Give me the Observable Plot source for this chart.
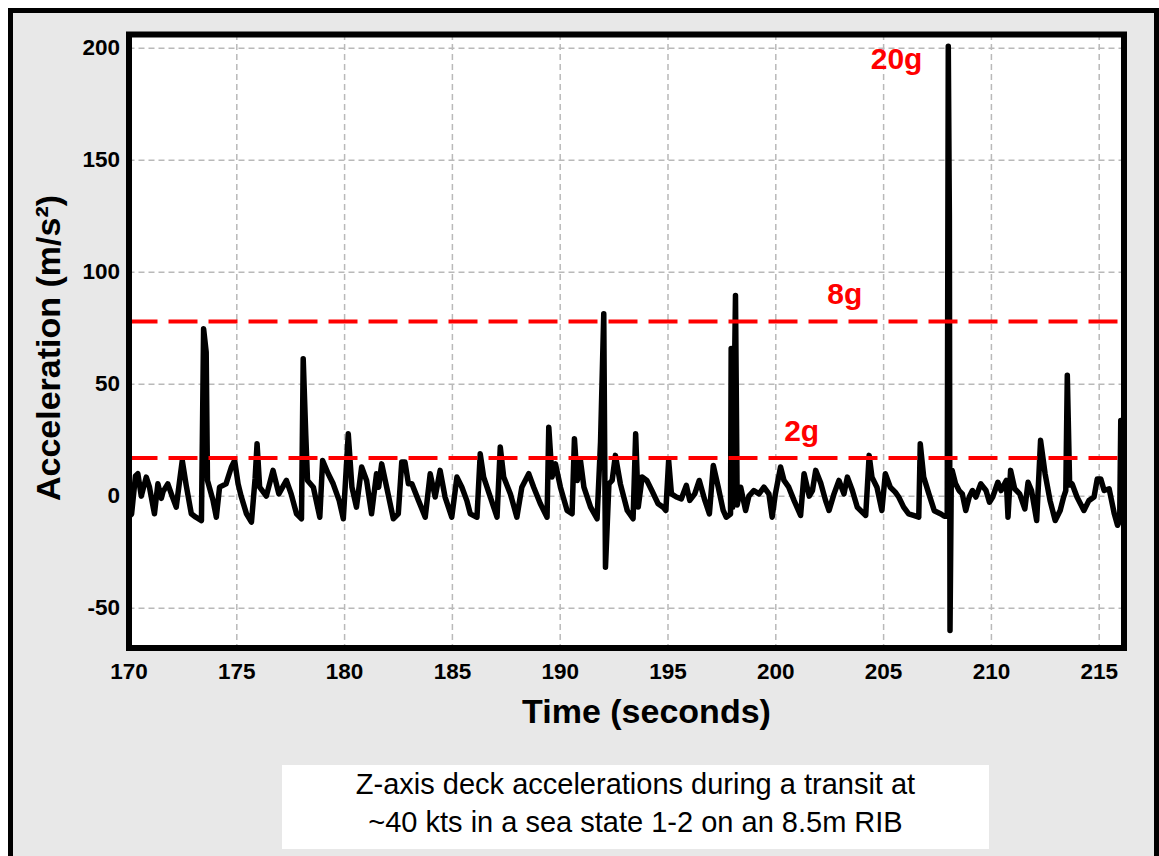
<!DOCTYPE html>
<html>
<head>
<meta charset="utf-8">
<script src="https://cdn.jsdelivr.net/npm/d3@7"></script>
<script src="https://cdn.jsdelivr.net/npm/@observablehq/plot@0.6"></script>
<style>
  html, body { margin: 0; padding: 0; background: #ffffff; overflow: hidden; }
  #page { position: relative; width: 1159px; height: 856px; background: #ffffff; font-family: "Liberation Sans", Arial, sans-serif; }
  #frame { position: absolute; left: 8px; top: 8px; width: 1151px; height: 860px; box-sizing: border-box;
           border: 5px solid #000; border-bottom: none; background: #e8e8e8; }
  #chart { position: absolute; left: 0; top: 0; }
  #caption { position: absolute; left: 282px; top: 765px; width: 707px; height: 84px; background: #ffffff;
             text-align: center; font-size: 29px; line-height: 38px; color: #000; font-weight: normal; }
</style>
</head>
<body>
<div id="page">
  <div id="frame"></div>
  <div id="chart"></div>
  <div id="caption">Z-axis deck accelerations during a transit at<br>~40 kts in a sea state 1-2 on an 8.5m RIB</div>
</div>
<script>
// Time (seconds)
const times = [
  170.00,170.12,170.30,170.41,170.57,170.80,170.95,171.18,171.34,171.50,171.58,171.80,172.00,172.19,172.35,172.47,172.65,172.89,173.10,173.36,
  173.46,173.58,173.64,173.90,174.05,174.20,174.50,174.75,174.90,175.06,175.20,175.45,175.68,175.85,175.94,176.06,176.37,176.68,176.95,177.30,
  177.52,177.77,178.00,178.08,178.20,178.28,178.55,178.85,178.98,179.24,179.47,179.75,179.94,180.17,180.34,180.55,180.79,181.02,181.25,181.48,
  181.58,181.72,181.95,182.26,182.49,182.65,182.80,182.96,183.12,183.43,183.74,183.97,184.20,184.43,184.66,184.97,185.21,185.44,185.67,185.83,
  186.14,186.29,186.45,186.76,187.07,187.22,187.38,187.69,187.99,188.22,188.54,188.77,189.08,189.39,189.47,189.62,189.78,190.01,190.32,190.55,
  190.66,190.79,190.94,191.10,191.41,191.71,191.87,192.02,192.10,192.26,192.41,192.56,192.79,193.11,193.38,193.50,193.62,193.80,194.02,194.25,
  194.54,194.77,194.90,195.03,195.16,195.39,195.62,195.85,196.01,196.24,196.45,196.71,196.92,197.10,197.33,197.56,197.70,197.90,197.93,198.00,
  198.13,198.21,198.37,198.60,198.75,198.98,199.22,199.45,199.68,199.83,199.98,200.22,200.38,200.60,200.85,201.15,201.31,201.55,201.70,201.85,
  202.08,202.31,202.47,202.70,202.93,203.16,203.32,203.55,203.78,204.17,204.33,204.46,204.69,204.92,205.08,205.31,205.54,205.70,205.93,206.16,
  206.39,206.63,206.70,206.86,207.10,207.35,207.66,207.82,207.95,208.00,208.05,208.08,208.14,208.18,208.34,208.50,208.65,208.81,208.97,209.12,
  209.28,209.51,209.75,209.91,210.06,210.30,210.45,210.69,210.77,210.89,211.08,211.31,211.55,211.70,211.86,212.10,212.28,212.49,212.72,212.96,
  213.19,213.35,213.45,213.52,213.63,213.74,213.97,214.29,214.52,214.76,214.91,215.07,215.23,215.46,215.70,215.85,215.95,216.00
];
// Z-axis acceleration (m/s²)
const accel = [
  -9,-8,9,10,0,8.5,4,-7.9,5.5,-1,2,5.5,0,-4.9,7,15.9,5,-7.9,-9.4,-10.9,
  74.7,64.3,7,-2,-9.4,4,5.5,13,15.9,5.5,0,-7.9,-11.6,8,23.4,4,0,11.5,1,7,
  1,-7.9,-10.1,61.3,27.1,7,4,-9.4,15.9,10,5.5,-2,-10.1,27.8,4,-4.9,13,7,-7.9,10,
  4,14.4,4,-10.1,-7.9,15.2,15.2,5.5,5.5,-2,-9.4,10,-0.4,11.5,-0.4,-9.4,8.5,4,-2,-7.9,
  -9.4,18.9,8.5,-0.4,-9.4,21.9,8.5,1,-9.4,4,10,4,-3.4,-9.4,30.8,8.5,14.4,4,-6.4,-7.9,
  25.6,7,15.9,4,-4.9,-10.1,24,81.4,-31.7,5.5,7,18.2,5.5,-6.4,-10.1,27.8,-4.9,8.5,7,2.5,
  -3.4,-4.9,-6.4,15.9,1,-0.4,-1.2,4.8,-1.9,1,7,-1.9,-7.9,13.7,4,-6.4,-9.4,-8,65.9,-5,
  89.6,-4,4,-6.4,0,2.5,1,4,1,-9.4,1,13,7,4,-2,-8.6,10,0,2.5,11.5,
  6,-2,-6.4,1,7,1,8.5,2.5,-5,-8.6,18.2,8.5,4,-6.4,10,4,1.8,-0.4,-4.9,-7.9,
  -8.6,-9.4,23.4,8.5,1,-6.5,-8,-9,-9,200.8,125,-60,8,11.5,5.5,2.5,1,-6.4,-0.4,2.5,
  -0.4,5.5,2.5,-2.7,-0.4,6.2,2.5,7,-9.4,11.5,3.3,1,-5.7,6.2,2.5,-10.9,24.9,10,-2,-10.9,
  -6.4,-0.4,2.5,54,5,5.5,-0.4,-6.4,-2,-0.4,7.7,7.7,2.5,3.3,-7.9,-13,-11,33.8
];
const xTicks = [170, 175, 180, 185, 190, 195, 200, 205, 210, 215];
const yTicks = [-50, 0, 50, 100, 150, 200];
const thresholds = [78, 17];              // 8g and 2g reference levels
const labelText = ["20g", "8g", "2g"];
const labelTime = [205.6, 203.2, 201.2];
const labelValue = [195, 90, 29];

const data = times.map((t, i) => ({t, a: accel[i]}));
const notes = labelText.map((s, i) => ({s, t: labelTime[i], v: labelValue[i]}));

const chart = Plot.plot({
  width: 1159,
  height: 740,
  marginLeft: 128.5,
  marginRight: 35.5,
  marginTop: 34,
  marginBottom: 92.5,
  x: {domain: [170, 216.15]},
  y: {domain: [-67.8, 206.1]},
  style: {background: "transparent", fontFamily: "'Liberation Sans', Arial, sans-serif", fontWeight: "bold", color: "#000"},
  marks: [
    Plot.frame({fill: "white"}),
    Plot.gridX(xTicks.slice(1), {stroke: "#b9b9b9", strokeOpacity: 1, strokeWidth: 1.5, strokeDasharray: "6,4"}),
    Plot.gridY(yTicks, {stroke: "#b9b9b9", strokeOpacity: 1, strokeWidth: 1.5, strokeDasharray: "6,4"}),
    Plot.line(data, {x: "t", y: "a", stroke: "black", strokeWidth: 5.5, strokeLinejoin: "round", strokeLinecap: "round"}),
    Plot.ruleY(thresholds, {stroke: "#ff0000", strokeWidth: 4, strokeDasharray: "29,11"}),
    Plot.text(notes, {x: "t", y: "v", text: "s", fill: "#ff0000", fontSize: 30, fontWeight: "bold"}),
    Plot.frame({stroke: "black", strokeWidth: 6}),
    Plot.axisX(xTicks, {tickSize: 0, tickPadding: 15, fontSize: 22.5, fontWeight: "bold", label: null}),
    Plot.axisY(yTicks, {tickSize: 0, tickPadding: 9, fontSize: 22.5, fontWeight: "bold", label: null, tickFormat: d => String(d)}),
    Plot.text(["Time (seconds)"], {text: d => d, frameAnchor: "bottom", textAnchor: "middle", dx: 20, dy: 75, fontSize: 34, fontWeight: "bold"}),
    Plot.text(["Acceleration (m/s²)"], {text: d => d, frameAnchor: "left", textAnchor: "middle", rotate: -90, dx: -80, dy: 6.75, fontSize: 34, fontWeight: "bold"})
  ]
});
document.getElementById("chart").appendChild(chart);
</script>
</body>
</html>
